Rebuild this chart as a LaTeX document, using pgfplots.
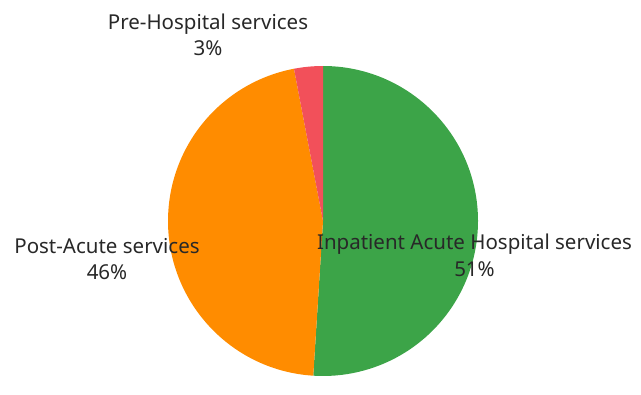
\documentclass[border=0pt]{standalone}
\usepackage{pgfplots}
\pgfplotsset{compat=1.18}
\usepackage{fontspec}
\setmainfont{Noto Sans}
\definecolor{cgreen}{RGB}{60,164,72}
\definecolor{corange}{RGB}{255,140,0}
\definecolor{cred}{RGB}{242,80,90}
\definecolor{ctext}{RGB}{40,40,40}
\begin{document}
\begin{tikzpicture}
\begin{axis}[
  x=1bp, y=1bp,
  xmin=0, xmax=641, ymin=0, ymax=394,
  hide axis, clip=false,
]
% values (percent)
\pgfmathsetmacro{\vA}{51}% Inpatient Acute Hospital services
\pgfmathsetmacro{\vB}{46}% Post-Acute services
\pgfmathsetmacro{\vC}{3}%  Pre-Hospital services
\pgfmathsetmacro{\aA}{90}
\pgfmathsetmacro{\aB}{90-3.6*\vA}
\pgfmathsetmacro{\aC}{\aB-3.6*\vB}
\pgfmathsetmacro{\aD}{\aC-3.6*\vC}
\addplot[draw=none] coordinates {(0,0) (641,394)};
\fill[cgreen] (axis cs:323,173) -- ++(\aA:155bp) arc[start angle=\aA, end angle=\aB, radius=155bp] -- cycle;
\fill[corange] (axis cs:323,173) -- ++(\aB:155bp) arc[start angle=\aB, end angle=\aC, radius=155bp] -- cycle;
\fill[cred] (axis cs:323,173) -- ++(\aC:155bp) arc[start angle=\aC, end angle=\aD, radius=155bp] -- cycle;
\node[align=center, text=ctext, font=\fontsize{20.5bp}{26.5bp}\selectfont] at (axis cs:208,359) {Pre-Hospital services\\3\%};
\node[align=center, text=ctext, font=\fontsize{20.5bp}{26.5bp}\selectfont] at (axis cs:107,135) {Post-Acute services\\46\%};
\node[align=center, text=ctext, font=\fontsize{20.5bp}{26.5bp}\selectfont] at (axis cs:474.5,138.5) {Inpatient Acute Hospital services\\51\%};
\end{axis}
\end{tikzpicture}
\end{document}
